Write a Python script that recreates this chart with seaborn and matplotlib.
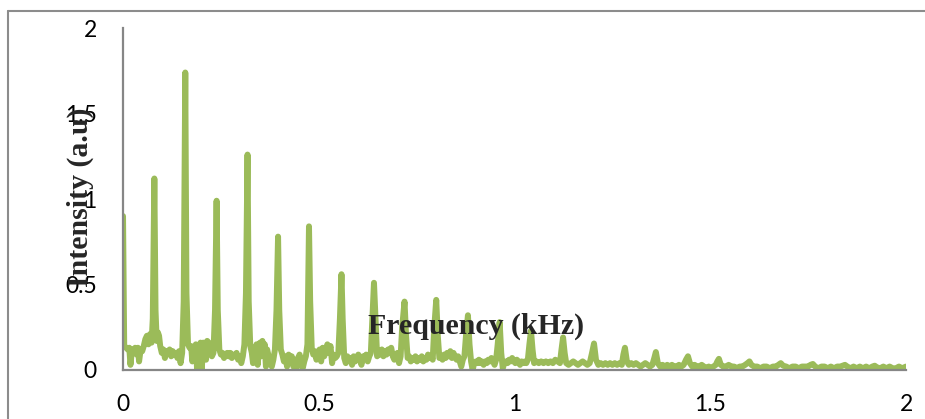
import matplotlib
matplotlib.use("Agg")
import matplotlib.pyplot as plt
from matplotlib.lines import Line2D
import seaborn as sns

# Spectrum (kHz, a.u.)
freq_khz = [
    0.000, 0.003, 0.008, 0.012, 0.016, 0.019, 0.023, 0.027, 0.031, 0.035,
    0.038, 0.041, 0.045, 0.049, 0.053, 0.057, 0.061, 0.065, 0.069, 0.073,
    0.076, 0.080, 0.083, 0.086, 0.089, 0.092, 0.095, 0.099, 0.103, 0.107,
    0.111, 0.115, 0.119, 0.123, 0.127, 0.131, 0.135, 0.139, 0.143, 0.147,
    0.151, 0.155, 0.159, 0.162, 0.166, 0.170, 0.174, 0.177, 0.180, 0.183,
    0.186, 0.189, 0.192, 0.195, 0.198, 0.201, 0.205, 0.209, 0.212, 0.215,
    0.219, 0.223, 0.227, 0.231, 0.235, 0.239, 0.242, 0.246, 0.250, 0.254,
    0.258, 0.262, 0.266, 0.270, 0.274, 0.278, 0.282, 0.286, 0.290, 0.294,
    0.298, 0.302, 0.306, 0.310, 0.314, 0.318, 0.321, 0.325, 0.329, 0.332,
    0.335, 0.338, 0.341, 0.344, 0.347, 0.350, 0.353, 0.356, 0.359, 0.362,
    0.365, 0.368, 0.372, 0.376, 0.380, 0.384, 0.388, 0.392, 0.396, 0.399,
    0.403, 0.407, 0.411, 0.415, 0.419, 0.423, 0.427, 0.431, 0.435, 0.439,
    0.443, 0.447, 0.451, 0.455, 0.459, 0.463, 0.467, 0.471, 0.475, 0.478,
    0.482, 0.486, 0.490, 0.494, 0.498, 0.502, 0.506, 0.510, 0.514, 0.518,
    0.522, 0.526, 0.530, 0.534, 0.538, 0.542, 0.546, 0.550, 0.554, 0.558,
    0.561, 0.565, 0.569, 0.573, 0.577, 0.581, 0.585, 0.589, 0.593, 0.597,
    0.601, 0.605, 0.609, 0.613, 0.617, 0.621, 0.625, 0.629, 0.633, 0.637,
    0.641, 0.645, 0.649, 0.653, 0.657, 0.661, 0.665, 0.669, 0.673, 0.677,
    0.681, 0.685, 0.689, 0.693, 0.697, 0.701, 0.705, 0.709, 0.713, 0.719,
    0.723, 0.727, 0.731, 0.735, 0.739, 0.743, 0.747, 0.751, 0.755, 0.759,
    0.763, 0.767, 0.771, 0.775, 0.779, 0.783, 0.787, 0.791, 0.795, 0.800,
    0.804, 0.808, 0.812, 0.816, 0.820, 0.824, 0.828, 0.832, 0.836, 0.840,
    0.844, 0.848, 0.852, 0.856, 0.860, 0.864, 0.868, 0.872, 0.876, 0.881,
    0.885, 0.889, 0.893, 0.897, 0.901, 0.905, 0.909, 0.913, 0.917, 0.921,
    0.925, 0.929, 0.933, 0.937, 0.941, 0.945, 0.949, 0.953, 0.957, 0.962,
    0.966, 0.970, 0.974, 0.978, 0.982, 0.986, 0.990, 0.994, 0.998, 1.002,
    1.006, 1.010, 1.014, 1.018, 1.022, 1.026, 1.030, 1.034, 1.038, 1.042,
    1.046, 1.050, 1.056, 1.062, 1.068, 1.074, 1.080, 1.086, 1.092, 1.098,
    1.104, 1.110, 1.116, 1.120, 1.124, 1.128, 1.132, 1.138, 1.144, 1.150,
    1.156, 1.162, 1.168, 1.174, 1.180, 1.186, 1.192, 1.198, 1.203, 1.208,
    1.214, 1.220, 1.226, 1.232, 1.238, 1.244, 1.250, 1.256, 1.262, 1.268,
    1.274, 1.278, 1.282, 1.287, 1.292, 1.298, 1.304, 1.310, 1.316, 1.322,
    1.328, 1.334, 1.340, 1.346, 1.352, 1.357, 1.361, 1.366, 1.372, 1.378,
    1.384, 1.390, 1.396, 1.402, 1.408, 1.414, 1.420, 1.426, 1.432, 1.438,
    1.443, 1.448, 1.454, 1.460, 1.466, 1.472, 1.478, 1.484, 1.490, 1.496,
    1.502, 1.508, 1.514, 1.518, 1.522, 1.527, 1.533, 1.540, 1.547, 1.554,
    1.561, 1.568, 1.575, 1.582, 1.589, 1.595, 1.600, 1.605, 1.612, 1.620,
    1.628, 1.636, 1.644, 1.652, 1.660, 1.668, 1.674, 1.680, 1.686, 1.694,
    1.702, 1.710, 1.718, 1.726, 1.734, 1.742, 1.750, 1.756, 1.762, 1.768,
    1.776, 1.784, 1.792, 1.800, 1.808, 1.816, 1.824, 1.832, 1.838, 1.844,
    1.850, 1.858, 1.866, 1.874, 1.882, 1.890, 1.898, 1.906, 1.914, 1.920,
    1.926, 1.934, 1.942, 1.950, 1.958, 1.966, 1.974, 1.982, 1.990, 2.000,
]
intensity = [
    0.90, 0.14, 0.13, 0.12, 0.13, 0.03, 0.12, 0.11, 0.13, 0.09,
    0.13, 0.05, 0.12, 0.11, 0.14, 0.18, 0.20, 0.15, 0.21, 0.16,
    0.30, 1.12, 0.35, 0.17, 0.22, 0.20, 0.14, 0.10, 0.12, 0.07,
    0.11, 0.10, 0.12, 0.08, 0.11, 0.09, 0.10, 0.07, 0.11, 0.04,
    0.10, 0.40, 1.74, 0.45, 0.15, 0.13, 0.14, 0.05, 0.13, 0.10,
    0.15, 0.01, 0.14, 0.07, 0.16, 0.00, 0.16, 0.15, 0.06, 0.17,
    0.16, 0.13, 0.08, 0.10, 0.35, 0.99, 0.35, 0.12, 0.09, 0.10,
    0.07, 0.09, 0.10, 0.08, 0.10, 0.07, 0.09, 0.08, 0.10, 0.06,
    0.08, 0.04, 0.08, 0.15, 0.45, 1.26, 0.40, 0.14, 0.10, 0.04,
    0.13, 0.06, 0.15, 0.03, 0.12, 0.16, 0.08, 0.17, 0.10, 0.15,
    0.02, 0.12, 0.08, 0.06, 0.02, 0.06, 0.12, 0.35, 0.78, 0.35,
    0.12, 0.09, 0.05, 0.08, 0.02, 0.09, 0.06, 0.08, 0.02, 0.06,
    0.01, 0.07, 0.09, 0.05, 0.01, 0.05, 0.08, 0.15, 0.84, 0.40,
    0.13, 0.09, 0.11, 0.06, 0.10, 0.12, 0.05, 0.13, 0.08, 0.12,
    0.15, 0.10, 0.14, 0.04, 0.09, 0.07, 0.08, 0.10, 0.30, 0.56,
    0.30, 0.07, 0.04, 0.08, 0.06, 0.07, 0.03, 0.08, 0.05, 0.07,
    0.09, 0.06, 0.03, 0.08, 0.07, 0.09, 0.05, 0.08, 0.10, 0.30,
    0.51, 0.30, 0.08, 0.11, 0.09, 0.12, 0.08, 0.11, 0.09, 0.12,
    0.10, 0.13, 0.08, 0.06, 0.09, 0.10, 0.04, 0.08, 0.25, 0.40,
    0.20, 0.07, 0.08, 0.05, 0.07, 0.06, 0.08, 0.05, 0.07, 0.06,
    0.08, 0.05, 0.07, 0.06, 0.09, 0.07, 0.08, 0.06, 0.25, 0.41,
    0.20, 0.07, 0.08, 0.06, 0.09, 0.07, 0.10, 0.08, 0.11, 0.07,
    0.10, 0.08, 0.06, 0.08, 0.05, 0.02, 0.06, 0.08, 0.20, 0.32,
    0.15, 0.05, 0.00, 0.04, 0.05, 0.04, 0.06, 0.04, 0.05, 0.03,
    0.05, 0.04, 0.06, 0.05, 0.07, 0.05, 0.03, 0.06, 0.15, 0.28,
    0.10, 0.01, 0.04, 0.05, 0.04, 0.06, 0.05, 0.07, 0.05, 0.04,
    0.06, 0.05, 0.03, 0.05, 0.04, 0.05, 0.04, 0.06, 0.15, 0.23,
    0.12, 0.04, 0.05, 0.04, 0.05, 0.04, 0.05, 0.04, 0.05, 0.04,
    0.06, 0.05, 0.04, 0.12, 0.19, 0.10, 0.04, 0.03, 0.04, 0.05,
    0.04, 0.03, 0.04, 0.05, 0.04, 0.03, 0.04, 0.10, 0.155, 0.06,
    0.03, 0.04, 0.03, 0.04, 0.03, 0.04, 0.03, 0.04, 0.03, 0.04,
    0.03, 0.09, 0.13, 0.05, 0.03, 0.04, 0.03, 0.04, 0.03, 0.02,
    0.03, 0.04, 0.03, 0.02, 0.03, 0.07, 0.105, 0.04, 0.02, 0.03,
    0.02, 0.03, 0.02, 0.03, 0.02, 0.02, 0.03, 0.02, 0.03, 0.06,
    0.08, 0.04, 0.02, 0.03, 0.02, 0.02, 0.03, 0.02, 0.01, 0.02,
    0.01, 0.02, 0.03, 0.05, 0.065, 0.03, 0.02, 0.02, 0.03, 0.02,
    0.02, 0.01, 0.02, 0.02, 0.03, 0.04, 0.05, 0.03, 0.02, 0.02,
    0.01, 0.02, 0.02, 0.01, 0.02, 0.02, 0.03, 0.04, 0.025, 0.02,
    0.01, 0.02, 0.02, 0.01, 0.02, 0.02, 0.02, 0.03, 0.035, 0.02,
    0.01, 0.02, 0.02, 0.01, 0.02, 0.01, 0.02, 0.02, 0.025, 0.03,
    0.02, 0.01, 0.02, 0.01, 0.02, 0.01, 0.02, 0.01, 0.02, 0.025,
    0.015, 0.01, 0.02, 0.01, 0.02, 0.01, 0.01, 0.02, 0.01, 0.02,
]
axis_ticks = [0, 0.5, 1, 1.5, 2]
tick_labels = ["0", "0.5", "1", "1.5", "2"]

sns.set_style("white")
plt.rcParams["font.family"] = ["Lato", "DejaVu Sans"]

fig = plt.figure(figsize=(9.25, 4.19), dpi=100)
ax = fig.add_axes([0.133, 0.117, 0.8465, 0.816])

sns.lineplot(x=freq_khz, y=intensity, ax=ax, color="#9BBB59", linewidth=4.3,
             estimator=None, sort=False)
ax.lines[0].set_solid_joinstyle("round")
ax.lines[0].set_solid_capstyle("round")
# axis titles sit on top of the trace, as in the original
ax.set_axisbelow(False)

ax.set_xlim(0, 2)
ax.set_ylim(0, 2)
ax.set_xticks(axis_ticks)
ax.set_xticklabels(tick_labels)
ax.set_yticks(axis_ticks)
ax.set_yticklabels(tick_labels)
ax.tick_params(axis="both", direction="out", length=7, width=1.3,
               color="#868686", labelsize=16.5, labelcolor="black")
ax.tick_params(axis="x", pad=10)
ax.tick_params(axis="y", pad=12)

for side in ["top", "right"]:
    ax.spines[side].set_visible(False)
for side in ["left", "bottom"]:
    ax.spines[side].set_color("#868686")
    ax.spines[side].set_linewidth(1.6)

label_font = dict(family="Liberation Serif", weight="bold", size=21.5)
ax.set_xlabel("Frequency (kHz)", **label_font)
ax.xaxis.set_label_coords(0.451, 0.129)
ax.xaxis.label.set_va("center")
ax.set_ylabel("Intensity (a.u)", **label_font)
ax.yaxis.set_label_coords(-0.054, 0.506)
ax.yaxis.label.set_va("center")

# outer chart border (only top and left edges are visible)
border = "#8c8c8c"
fig.add_artist(Line2D([7.5 / 925, 1.0], [1 - 11.5 / 419] * 2,
                      transform=fig.transFigure, color=border, linewidth=1.5))
fig.add_artist(Line2D([7.5 / 925] * 2, [0.0, 1 - 11.5 / 419],
                      transform=fig.transFigure, color=border, linewidth=1.5))

fig.savefig("out.png", dpi=100)
